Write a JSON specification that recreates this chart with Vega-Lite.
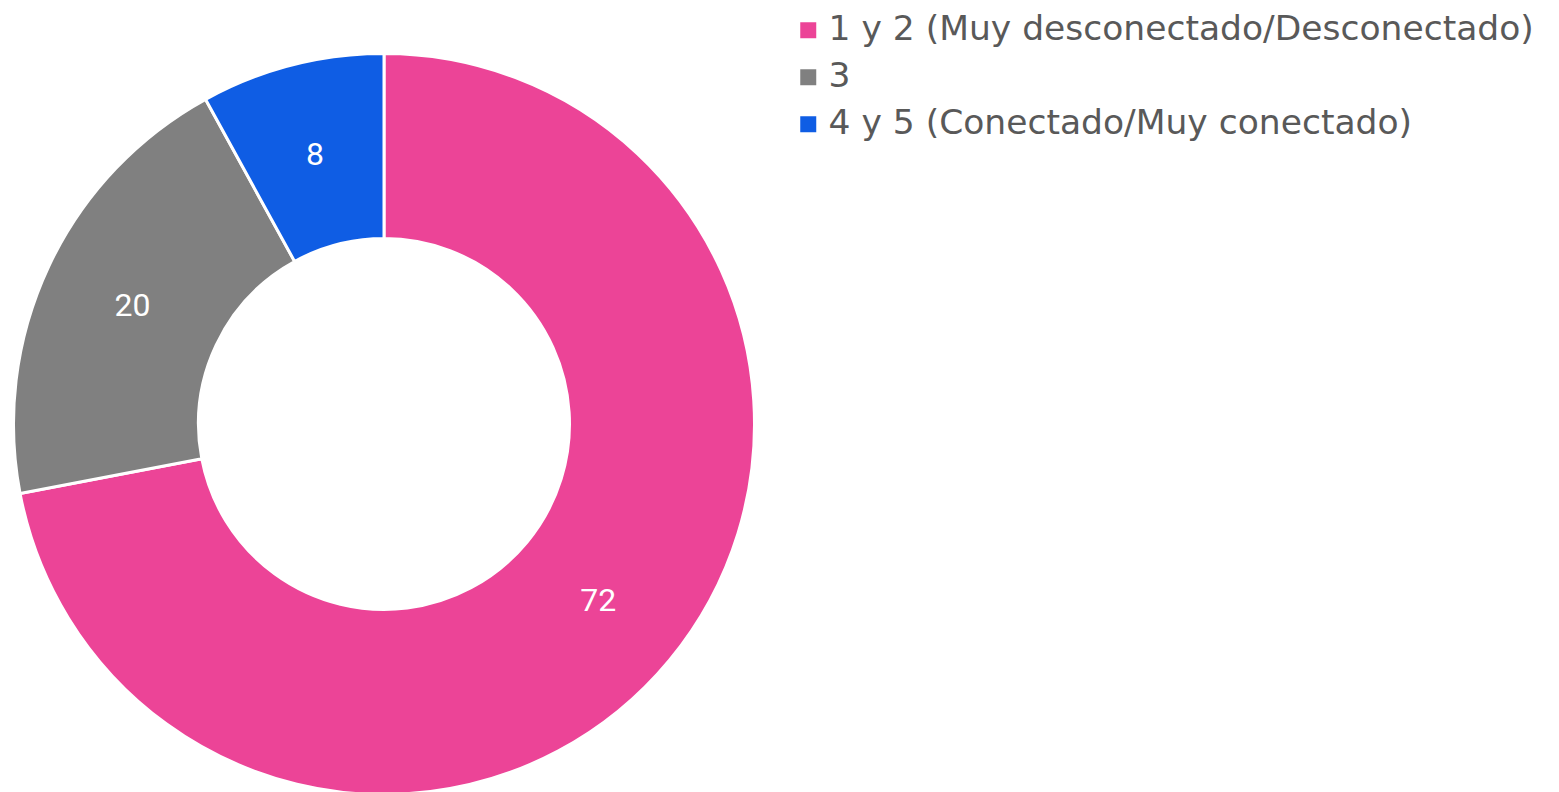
{
  "$schema": "https://vega.github.io/schema/vega-lite/v6.json",
  "width": 768,
  "height": 848,
  "padding": 0,
  "autosize": {"type": "pad"},
  "background": "white",
  "config": {"view": {"stroke": null}},
  "data": {
    "values": [
      {"cat": "1 y 2 (Muy desconectado/Desconectado)", "value": 72, "ord": 1},
      {"cat": "3", "value": 20, "ord": 2},
      {"cat": "4 y 5 (Conectado/Muy conectado)", "value": 8, "ord": 3}
    ]
  },
  "encoding": {
    "theta": {"field": "value", "type": "quantitative", "stack": true},
    "order": {"field": "ord", "type": "quantitative"}
  },
  "layer": [
    {
      "mark": {"type": "arc", "innerRadius": 185.5, "outerRadius": 370.5, "stroke": "white", "strokeWidth": 3},
      "encoding": {
        "color": {
          "field": "cat",
          "type": "nominal",
          "sort": null,
          "scale": {
            "domain": ["1 y 2 (Muy desconectado/Desconectado)", "3", "4 y 5 (Conectado/Muy conectado)"],
            "range": ["#EC4497", "#808080", "#0F5DE4"]
          },
          "legend": {
            "title": null,
            "orient": "none",
            "legendX": 791,
            "legendY": 13,
            "symbolType": "square",
            "symbolSize": 256,
            "symbolStrokeWidth": 0,
            "labelFont": "DejaVu Sans",
            "labelFontSize": 34.5,
            "labelColor": "#595959",
            "labelOffset": 3,
            "labelLimit": 1000,
            "rowPadding": 12,
            "padding": 0
          }
        }
      }
    },
    {
      "mark": {"type": "text", "radius": 278, "fill": "white", "fontSize": 32, "font": "Roboto"},
      "encoding": {
        "text": {"field": "value", "type": "quantitative"}
      }
    }
  ]
}
